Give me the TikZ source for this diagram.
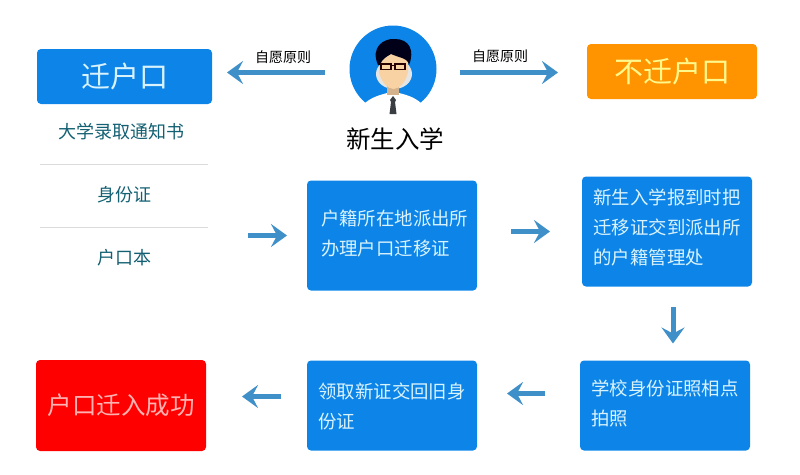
\documentclass[tikz,border=0pt]{standalone}
\usepackage{fontspec}
\setmainfont{Noto Sans CJK SC}
\usetikzlibrary{arrows.meta,positioning}
\definecolor{boxblue}{HTML}{0D85E8}
\definecolor{flowblue}{HTML}{3F90C8}
\definecolor{doctext}{HTML}{136072}
\definecolor{skin}{HTML}{F9D2A4}
\tikzset{
  >={Stealth[length=16pt,width=23pt,inset=6pt]},
  box/.style={
    rectangle, rounded corners=4pt, align=left, inner sep=0pt, outer sep=0pt,
    minimum width=170pt, fill=boxblue, text=white!85!cyan,
    font=\fontsize{18.4}{30}\selectfont
  },
  title/.style={
    box, align=center, minimum height=55pt, font=\fontsize{29}{32}\selectfont
  },
  doc/.style={
    align=center, inner sep=0pt, outer sep=0pt, text=doctext,
    font=\fontsize{18}{22}\selectfont
  },
  tag/.style={
    inner sep=0pt, outer sep=0pt, font=\fontsize{14}{16}\selectfont
  },
  flow/.style={->, line width=5pt, draw=flowblue},
  rulegray/.style={draw=black!14, line width=0.7pt},
}

\begin{document}
\begin{tikzpicture}[x=1pt,y=-1pt]
  \useasboundingbox (0,0) rectangle (800,474);

  \node[title, minimum width=175pt] (qian) at (124.5,76.5) {迁户口};
  \node[title, fill=orange!85!yellow, text=yellow!45!white] (buqian) at (672,71.5) {不迁户口};
  \node[circle, fill=boxblue, minimum size=87pt, inner sep=0pt, outer sep=0pt] (person) at (393,69) {};
  \node[below=15pt of person, xshift=2pt, inner sep=0pt, font=\fontsize{24.5}{28}\selectfont] (xinsheng) {新生入学};
  \node[tag] (tagl) at (283,57) {自愿原则};
  \node[tag] (tagr) at (500,56) {自愿原则};

  \node[doc] (tongzhi) at (121,131.5) {大学录取通知书};
  \node[doc] (shenfen) at (124,194.5) {身份证};
  \node[doc] (hukou) at (124,257.5) {户口本};
  \draw[rulegray] (40,164) -- (208,164);
  \draw[rulegray] (40,227) -- (208,227);

  \node[box, fill=red, text=red!30!white, minimum height=91pt, font=\fontsize{24.5}{28}\selectfont] (chenggong) at (121,405.5) {户口迁入成功};
  \node[box, minimum height=90pt, text depth=0pt, right=101pt of chenggong] (lingqu) {领取新证交回旧身\\份证};
  \node[box, minimum height=90pt, text depth=5pt, right=103pt of lingqu] (paizhao) {学校身份证照相点\\拍照};
  \node[box, minimum height=110pt, text depth=9pt, above=74pt of paizhao, xshift=2pt] (jiaodao) {新生入学报到时把\\迁移证交到派出所\\的户籍管理处};
  \node[box, minimum height=110pt, text depth=36pt, text width=142pt, above=70pt of lingqu] (banli) {户籍所在地派出所\\办理户口迁移证};

  \coordinate (startl) at (325,72.5);
  \coordinate (startr) at (460,72.5);
  \coordinate (startd) at (248,236);
  \draw[flow, shorten >=15pt] (startl) -- (qian.east |- startl);
  \draw[flow, shorten >=29pt] (startr) -- (buqian.west |- startr);
  \draw[flow, shorten >=20pt] (startd |- banli.west) -- (banli.west);
  \draw[flow, shorten <=34pt, shorten >=32pt] (banli.east |- jiaodao.west) -- (jiaodao.west);
  \draw[flow, shorten <=20pt, shorten >=17pt] ([xshift=6pt]jiaodao.south) -- ([xshift=6pt]jiaodao.south |- paizhao.north);
  \draw[flow, shorten <=35pt, shorten >=30pt] ([yshift=12pt]paizhao.west) -- ([yshift=12pt]lingqu.east);
  \draw[flow, shorten <=26pt, shorten >=36pt] ([yshift=9pt]lingqu.west) -- ([yshift=9pt]chenggong.east);

  \fill[white] (365,103) .. controls (372,97) and (380,95) .. (387,93) -- (399,93)
    .. controls (407,95) and (414,97) .. (421,103) -- (421,115) -- (365,115) -- cycle;
  \fill[black!10!white] (394,74) ellipse (18pt and 15pt);
  \fill[skin!85!black] (387,84) rectangle (399,95);
  \fill[skin] (379,52) -- (408,52) -- (408,72)
    .. controls (406,82) and (399,89) .. (393.5,89) .. controls (388,89) and (381,82) .. (379,72) -- cycle;
  \fill[black!90!blue] (378,65) .. controls (370,47) and (384,38) .. (395,39)
    .. controls (409,39) and (415,50) .. (409,65) .. controls (408,58) and (400,58) .. (391,54)
    .. controls (386,57) and (382,59) .. (380,65) -- cycle;
  \draw[black!85!red, line width=1.8pt] (381,64) rectangle (391,69.5) (395,64) rectangle (405,69.5) (391,65.5) -- (395,65.5);
  \fill[black!85!cyan] (393,96) -- (396,100) -- (395,102) -- (396.5,114) -- (389.5,114) -- (391,102) -- (390,100) -- cycle;
\end{tikzpicture}
\end{document}
